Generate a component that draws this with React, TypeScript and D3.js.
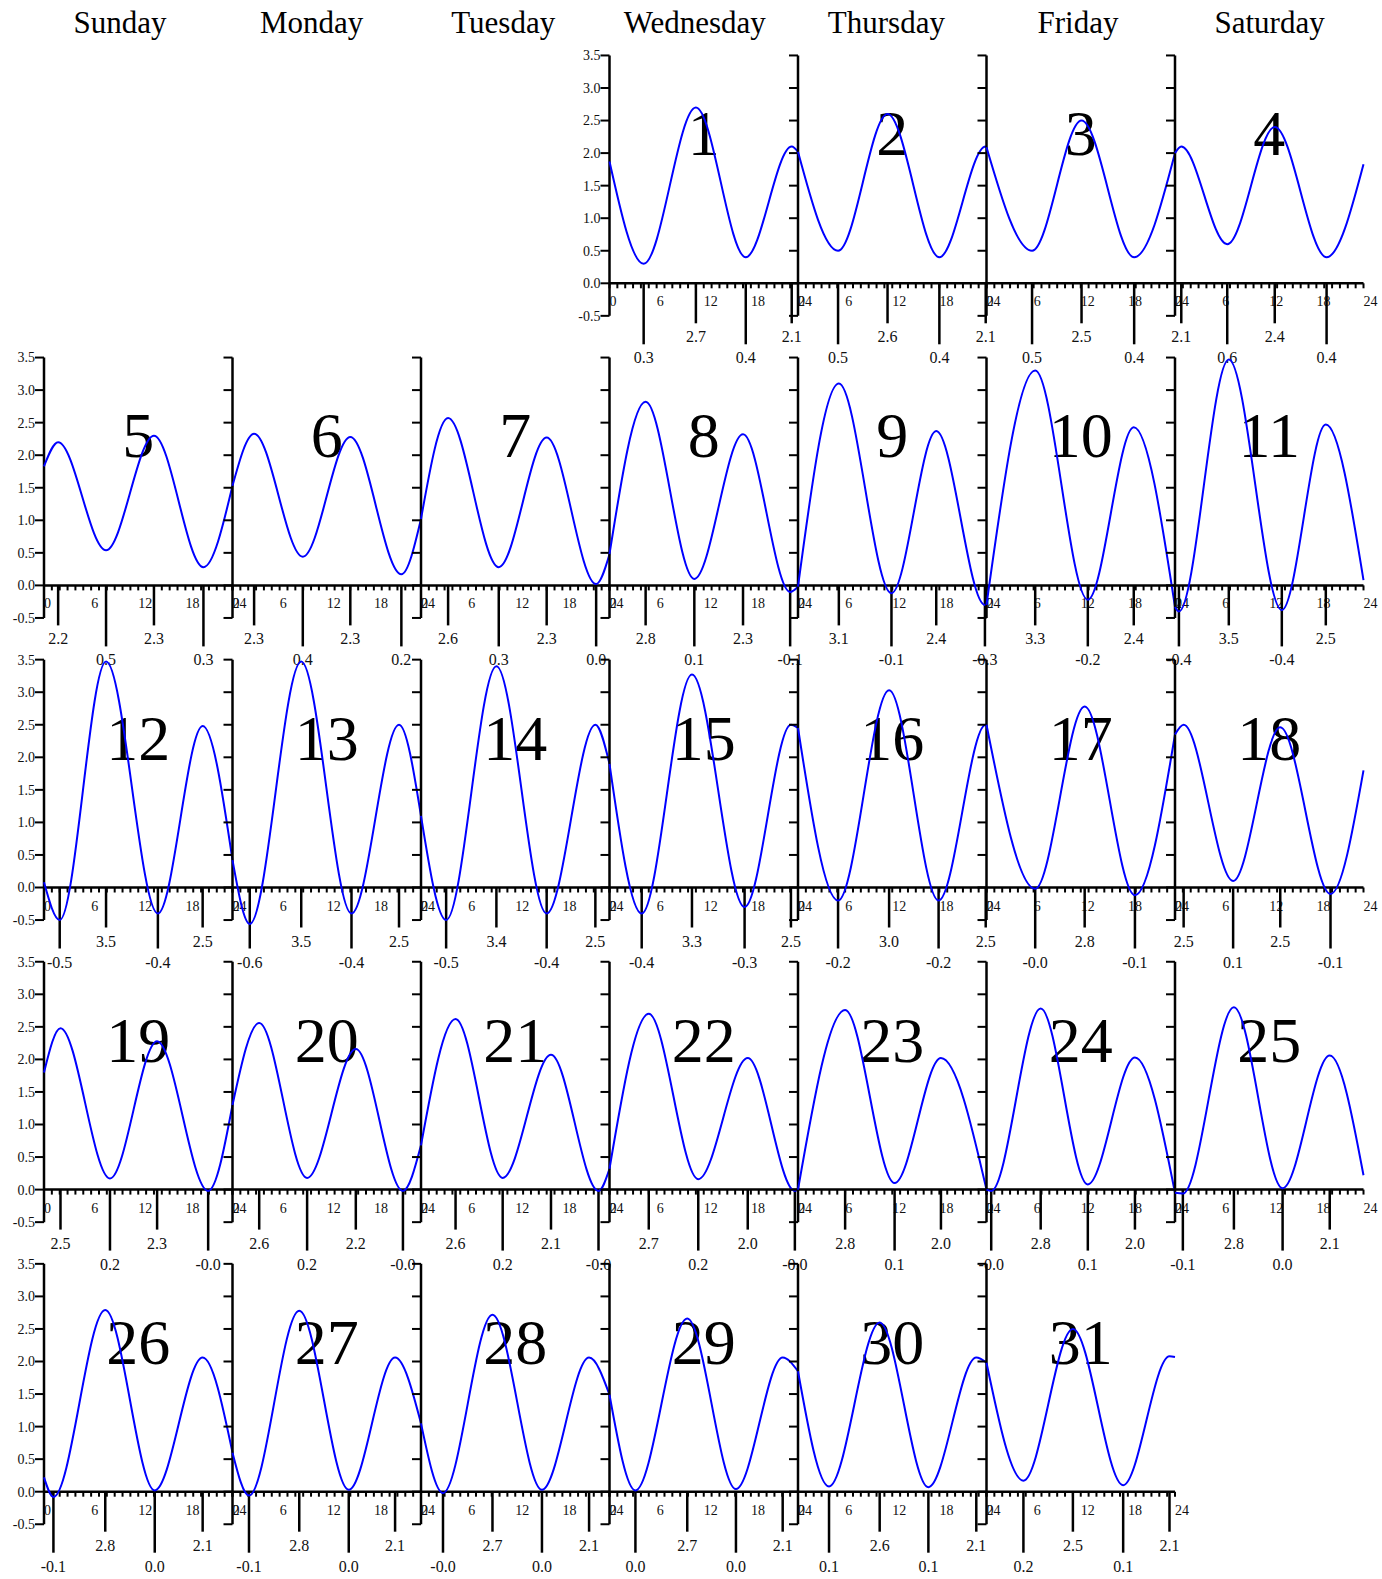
import React from 'react';
import * as d3 from 'd3';

const weekdays = ['Sunday', 'Monday', 'Tuesday', 'Wednesday', 'Thursday', 'Friday', 'Saturday'];
const firstWeekday = 3; // day 1 falls on a Wednesday
const dayCount = 31;
const levelTicks = [-0.5, 0, 0.5, 1, 1.5, 2, 2.5, 3, 3.5];
const hourLabels = [0, 6, 12, 18, 24];

// water level at 00:00 of each day (last entry = 24:00 of day 31)
const midnightLevel = [
  1.87, 2.02, 2.09, 2.0, 1.83, 1.53, 1.02, 0.48, -0.02, -0.3,
  -0.33, 0.08, 0.42, 1.1, 1.9, 2.45, 2.5, 2.35, 1.8, 1.3,
  0.68, 0.32, 0.0, 0.0, -0.05, 0.22, 0.6, 1.05, 1.49, 1.85,
  1.98, 2.07,
];

// [day, hour, height, kind]  kind: H = high water, L = low water
const tideEvents: [number, number, number, string][] = [
  [1, 4.35, 0.3, 'L'], [1, 11.0, 2.7, 'H'], [1, 17.35, 0.4, 'L'], [1, 23.2, 2.1, 'H'],
  [2, 5.1, 0.5, 'L'], [2, 11.4, 2.6, 'H'], [2, 18.0, 0.4, 'L'], [2, 23.9, 2.1, 'H'],
  [3, 5.8, 0.5, 'L'], [3, 12.1, 2.5, 'H'], [3, 18.8, 0.4, 'L'],
  [4, 0.8, 2.1, 'H'], [4, 6.65, 0.6, 'L'], [4, 12.7, 2.4, 'H'], [4, 19.3, 0.4, 'L'],
  [5, 1.8, 2.2, 'H'], [5, 7.9, 0.54, 'L'], [5, 14.0, 2.3, 'H'], [5, 20.3, 0.28, 'L'],
  [6, 2.75, 2.33, 'H'], [6, 8.95, 0.44, 'L'], [6, 15.0, 2.28, 'H'], [6, 21.5, 0.17, 'L'],
  [7, 3.45, 2.57, 'H'], [7, 9.9, 0.28, 'L'], [7, 16.0, 2.27, 'H'], [7, 22.3, 0.02, 'L'],
  [8, 4.6, 2.82, 'H'], [8, 10.8, 0.1, 'L'], [8, 17.0, 2.32, 'H'], [8, 23.0, -0.1, 'L'],
  [9, 5.2, 3.1, 'H'], [9, 11.9, -0.12, 'L'], [9, 17.6, 2.37, 'H'], [9, 23.8, -0.3, 'L'],
  [10, 6.2, 3.3, 'H'], [10, 12.9, -0.22, 'L'], [10, 18.75, 2.43, 'H'],
  [11, 0.5, -0.4, 'L'], [11, 6.85, 3.47, 'H'], [11, 13.6, -0.38, 'L'], [11, 19.2, 2.47, 'H'],
  [12, 2.0, -0.5, 'L'], [12, 7.9, 3.47, 'H'], [12, 14.5, -0.4, 'L'], [12, 20.2, 2.48, 'H'],
  [13, 2.2, -0.56, 'L'], [13, 8.75, 3.47, 'H'], [13, 15.15, -0.4, 'L'], [13, 21.2, 2.5, 'H'],
  [14, 3.2, -0.5, 'L'], [14, 9.6, 3.4, 'H'], [14, 16.0, -0.4, 'L'], [14, 22.2, 2.5, 'H'],
  [15, 4.1, -0.4, 'L'], [15, 10.5, 3.27, 'H'], [15, 17.2, -0.3, 'L'], [15, 23.1, 2.5, 'H'],
  [16, 5.1, -0.2, 'L'], [16, 11.6, 3.03, 'H'], [16, 17.9, -0.2, 'L'], [16, 23.9, 2.5, 'H'],
  [17, 6.2, -0.02, 'L'], [17, 12.5, 2.78, 'H'], [17, 18.9, -0.12, 'L'],
  [18, 1.1, 2.5, 'H'], [18, 7.4, 0.1, 'L'], [18, 13.4, 2.46, 'H'], [18, 19.8, -0.1, 'L'],
  [19, 2.1, 2.48, 'H'], [19, 8.4, 0.17, 'L'], [19, 14.4, 2.28, 'H'], [19, 20.9, -0.02, 'L'],
  [20, 3.4, 2.56, 'H'], [20, 9.5, 0.18, 'L'], [20, 15.7, 2.16, 'H'], [20, 21.7, -0.02, 'L'],
  [21, 4.4, 2.62, 'H'], [21, 10.4, 0.18, 'L'], [21, 16.55, 2.07, 'H'], [21, 22.6, -0.02, 'L'],
  [22, 5.0, 2.7, 'H'], [22, 11.3, 0.16, 'L'], [22, 17.6, 2.02, 'H'], [22, 23.6, -0.02, 'L'],
  [23, 6.0, 2.76, 'H'], [23, 12.3, 0.1, 'L'], [23, 18.2, 2.02, 'H'],
  [24, 0.6, -0.02, 'L'], [24, 6.9, 2.78, 'H'], [24, 12.9, 0.08, 'L'], [24, 18.9, 2.03, 'H'],
  [25, 1.0, -0.06, 'L'], [25, 7.5, 2.8, 'H'], [25, 13.7, 0.02, 'L'], [25, 19.7, 2.06, 'H'],
  [26, 1.2, -0.08, 'L'], [26, 7.8, 2.79, 'H'], [26, 14.1, 0.02, 'L'], [26, 20.2, 2.06, 'H'],
  [27, 2.1, -0.06, 'L'], [27, 8.5, 2.78, 'H'], [27, 14.8, 0.03, 'L'], [27, 20.7, 2.06, 'H'],
  [28, 2.8, -0.02, 'L'], [28, 9.1, 2.72, 'H'], [28, 15.4, 0.03, 'L'], [28, 21.4, 2.06, 'H'],
  [29, 3.3, 0.02, 'L'], [29, 9.9, 2.66, 'H'], [29, 16.1, 0.04, 'L'], [29, 22.05, 2.06, 'H'],
  [30, 3.95, 0.08, 'L'], [30, 10.4, 2.6, 'H'], [30, 16.6, 0.07, 'L'], [30, 22.7, 2.06, 'H'],
  [31, 4.7, 0.17, 'L'], [31, 11.0, 2.5, 'H'], [31, 17.4, 0.1, 'L'], [31, 23.3, 2.08, 'H'],
];

const W = 1382;
const H = 1579;
const panelLeft = 44;
const panelW = 188.5;
const firstZero = 283.3;
const rowStep = 302.1;
const unit = 65.1;
const font = '"Liberation Serif", "Times New Roman", serif';

function DayPanel({ day }: { day: number }) {
  const idx = day - 1 + firstWeekday;
  const row = Math.floor(idx / 7);
  const col = idx % 7;
  const x0 = panelLeft + col * panelW;
  const zero = firstZero + row * rowStep;

  const x = d3.scaleLinear().domain([0, 24]).range([x0, x0 + panelW]);
  const y = d3.scaleLinear().domain([0, 3.5]).range([zero, zero - 3.5 * unit]);

  const events = tideEvents.filter(e => e[0] === day).sort((a, b) => a[1] - b[1]);
  const pts: [number, number][] = [
    [0, midnightLevel[day - 1]],
    ...events.map(e => [e[1], e[2]] as [number, number]),
    [24, midnightLevel[day]],
  ];
  const line = d3.line<[number, number]>()
    .x(p => x(p[0]))
    .y(p => y(p[1]))
    .curve(d3.curveMonotoneX);

  const showLabels = col === 0 || day === 1;

  return (
    <g>
      {/* level axis */}
      <line x1={x0} x2={x0} y1={y(3.5)} y2={y(-0.5)} stroke="#000" strokeWidth={2.5} />
      {levelTicks.map(t => (
        <g key={t}>
          <line x1={x0 - 9} x2={x0} y1={y(t)} y2={y(t)} stroke="#000" strokeWidth={2} />
          {showLabels && (
            <text x={x0 - 9} y={y(t)} dy="0.35em" textAnchor="end" fontSize={14} fill="#111">
              {t.toFixed(1)}
            </text>
          )}
        </g>
      ))}
      {/* hour axis */}
      <line x1={x0} x2={x0 + panelW} y1={zero} y2={zero} stroke="#000" strokeWidth={2.5} />
      {d3.range(0, 25).map(h => (
        <line key={h} x1={x(h)} x2={x(h)} y1={zero} y2={zero + 5} stroke="#000" strokeWidth={2} />
      ))}
      {hourLabels.map(h => (
        <text key={h} x={x(h)} y={zero + 23} textAnchor="start" fontSize={14} fill="#111">
          {h}
        </text>
      ))}
      {/* high / low water marks */}
      {events.map((e, i) => {
        const len = e[3] === 'H' ? 40 : 61;
        return (
          <g key={i}>
            <line x1={x(e[1])} x2={x(e[1])} y1={zero} y2={zero + len} stroke="#000" strokeWidth={2.5} />
            <text x={x(e[1])} y={zero + len + 19} textAnchor="middle" fontSize={16} fill="#111">
              {e[2].toFixed(1)}
            </text>
          </g>
        );
      })}
      <text x={x0 + panelW / 2} y={zero - 128} textAnchor="middle" fontSize={64} fill="#000">
        {day}
      </text>
      <path d={line(pts) ?? ''} fill="none" stroke="#0000ff" strokeWidth={2} />
    </g>
  );
}

export default function App() {
  const days = d3.range(1, dayCount + 1);
  return (
    <svg
      width={W}
      height={H}
      style={{ position: 'absolute', left: 0, top: 0, background: '#fff' }}
      fontFamily={font}
    >
      {weekdays.map((d, i) => (
        <text key={d} x={120 + i * 191.6} y={33} textAnchor="middle" fontSize={31} fill="#000">
          {d}
        </text>
      ))}
      {days.map(d => (
        <DayPanel key={d} day={d} />
      ))}
    </svg>
  );
}
